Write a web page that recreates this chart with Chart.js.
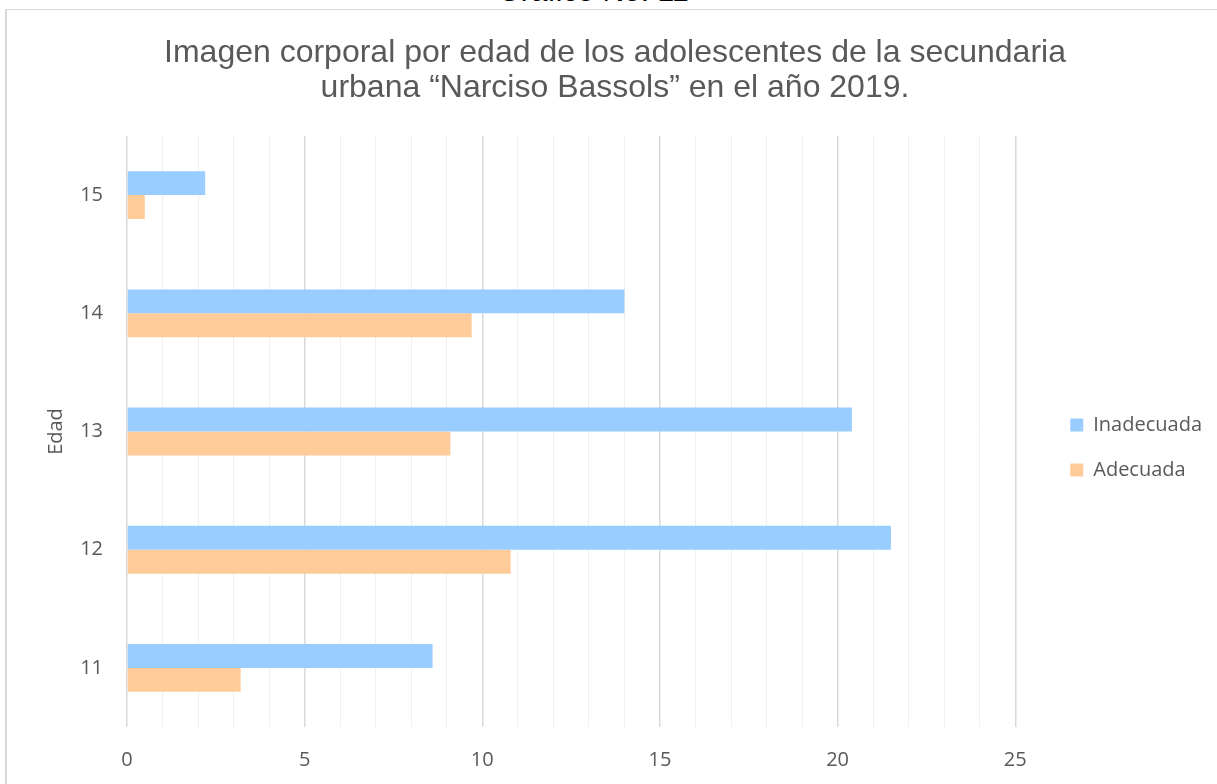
<!DOCTYPE html>
<html>
<head>
<meta charset="utf-8">
<title>Gráfico No. 11</title>
<script src="https://cdn.jsdelivr.net/npm/chart.js@4.4.1/dist/chart.umd.min.js"></script>
<style>
	html, body {
		margin: 0;
		padding: 0;
		background: #ffffff;
		overflow: hidden;
	}
	#marco {
		position: absolute;
		left: 5px;
		top: 9px;
		width: 1300px;
		height: 900px;
		border-top: 1px solid #d9d9d9;
		border-left: 2px solid #d9d9d9;
	}
	#numero {
		position: absolute;
		left: 443px;
		top: -24px;
		width: 300px;
		text-align: center;
		font: 30px "Liberation Sans", Arial, sans-serif;
		line-height: 30px;
		color: #000000;
	}
	#grafico {
		position: absolute;
		left: 0;
		top: 0;
	}
</style>
</head>
<body>
<div id="marco"></div>
<div id="numero">Gráfico No. 11</div>
<canvas id="grafico" width="1217" height="784"></canvas>
<script>
	// edades de arriba hacia abajo
	var edades = ['15', '14', '13', '12', '11'];
	var inadecuada = [2.2, 14.0, 20.4, 21.5, 8.6];
	var adecuada = [0.5, 9.7, 9.1, 10.8, 3.2];
	var ejeX = { min: 0, max: 25, paso: 1, etiquetaCada: 5 };

	var gris = '#595959';
	var letra = { family: '"Open Sans", "Noto Sans", sans-serif', size: 20 };

	var config = {
		type: 'bar',
		data: {
			labels: edades,
			datasets: [{
				label: 'Inadecuada',
				data: inadecuada,
				backgroundColor: '#99ccff',
				yAxisID: 'y'
			}, {
				label: 'Adecuada',
				data: adecuada,
				backgroundColor: '#ffcc99',
				yAxisID: 'y'
			}]
		},
		options: {
			indexAxis: 'y',
			responsive: false,
			animation: false,
			devicePixelRatio: 1,
			categoryPercentage: 0.405,
			barPercentage: 1,
			layout: {
				padding: { left: 18, right: 5, top: 0, bottom: 0 }
			},
			scales: {
				x: {
					min: ejeX.min,
					max: ejeX.max,
					border: { display: false },
					grid: {
						drawTicks: false,
						color: function (ctx) {
							return ctx.tick.value % ejeX.etiquetaCada === 0 ? '#d9d9d9' : '#efefef';
						},
						lineWidth: function (ctx) {
							return ctx.tick.value % ejeX.etiquetaCada === 0 ? 1.5 : 1;
						}
					},
					ticks: {
						stepSize: ejeX.paso,
						autoSkip: false,
						maxRotation: 0,
						padding: 21,
						color: gris,
						font: letra,
						callback: function (v) {
							return v % ejeX.etiquetaCada === 0 ? v : '';
						}
					},
					afterFit: function (scale) {
						scale.height = 57;
					}
				},
				y: {
					border: { display: false },
					grid: { display: false, drawTicks: false },
					ticks: {
						padding: 24,
						color: gris,
						font: letra
					},
					title: {
						display: true,
						text: 'Edad',
						color: gris,
						font: letra,
						padding: { top: 26, bottom: 0 }
					},
					afterFit: function (scale) {
						scale.width = 109;
					}
				},
				// espacio entre el área del gráfico y la leyenda
				yDer: {
					type: 'category',
					position: 'right',
					border: { display: false },
					grid: { display: false },
					ticks: { display: false },
					afterFit: function (scale) {
						scale.width = 30;
					}
				}
			},
			plugins: {
				title: {
					display: true,
					text: ['Imagen corporal por edad de los adolescentes de la secundaria',
						'urbana “Narciso Bassols” en el año 2019.'],
					color: gris,
					font: { family: '"Liberation Sans", Arial, sans-serif', size: 32, weight: 'normal', lineHeight: 1.094 },
					padding: { top: 36, bottom: 30 }
				},
				legend: {
					position: 'right',
					fullSize: false,
					align: 'center',
					title: {
						display: true,
						text: ' ',
						font: { size: 10 },
						padding: 10
					},
					labels: {
						boxWidth: 13,
						boxHeight: 13,
						padding: 25,
						color: gris,
						font: letra
					}
				},
				tooltip: { enabled: false }
			}
		}
	};

	window.graficoEdad = new Chart(document.getElementById('grafico'), config);
</script>
</body>
</html>
